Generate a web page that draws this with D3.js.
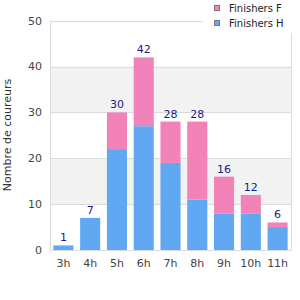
<!DOCTYPE html>
<html>
<head>
<meta charset="utf-8">
<script src="https://cdn.jsdelivr.net/npm/d3@7"></script>
<style>
  body { margin: 0; background: #fff; }
  svg { display: block; font-family: "DejaVu Sans", sans-serif; }
</style>
</head>
<body>
<svg id="chart" width="300" height="300"></svg>
<script>
const categories = ['3h', '4h', '5h', '6h', '7h', '8h', '9h', '10h', '11h'];
const finishersH = [1, 7, 22, 27, 19, 11, 8, 8, 5];
const finishersF = [0, 0, 8, 15, 9, 17, 8, 4, 1];
const yTicks = [0, 10, 20, 30, 40, 50];
const seriesNames = ['Finishers F', 'Finishers H'];

const margin = { top: 20, right: 9, bottom: 50, left: 50 };
const width = 300;
const height = 300;

const svg = d3.select('#chart');

const x = d3.scaleBand()
  .domain(categories)
  .range([margin.left, width - margin.right])
  .paddingInner(0.25)
  .paddingOuter(0.125);

const y = d3.scaleLinear()
  .domain([0, 50])
  .range([height - margin.bottom, margin.top + 0.7]);

const colorH = '#60a8f2';
const colorF = '#f283b8';

// alternating bands
for (let i = 0; i < yTicks.length - 1; i++) {
  if (i % 2 === 1) {
    svg.append('rect')
      .attr('x', margin.left)
      .attr('y', y(yTicks[i + 1]))
      .attr('width', width - margin.right - margin.left)
      .attr('height', y(yTicks[i]) - y(yTicks[i + 1]))
      .attr('fill', '#f2f2f2');
  }
}

// grid lines
svg.append('g')
  .selectAll('line')
  .data(yTicks)
  .enter()
  .append('line')
  .attr('x1', margin.left)
  .attr('x2', width - margin.right)
  .attr('y1', (d) => Math.round(y(d)) + 0.5)
  .attr('y2', (d) => Math.round(y(d)) + 0.5)
  .attr('stroke', '#dcdcdc');

// frame sides
svg.append('line')
  .attr('x1', margin.left + 0.5).attr('x2', margin.left + 0.5)
  .attr('y1', y(50)).attr('y2', y(0) + 1)
  .attr('stroke', '#dcdcdc');
svg.append('line')
  .attr('x1', width - margin.right + 0.5).attr('x2', width - margin.right + 0.5)
  .attr('y1', y(50)).attr('y2', y(0) + 1)
  .attr('stroke', '#dcdcdc');

// bars
const groups = svg.selectAll('.bar-group')
  .data(categories)
  .enter()
  .append('g')
  .attr('class', 'bar-group');

groups.append('rect')
  .attr('x', (d) => x(d))
  .attr('width', x.bandwidth())
  .attr('y', (d, i) => y(finishersH[i]))
  .attr('height', (d, i) => y(0) - y(finishersH[i]))
  .attr('fill', colorH);

groups.append('rect')
  .attr('x', (d) => x(d))
  .attr('width', x.bandwidth())
  .attr('y', (d, i) => y(finishersH[i] + finishersF[i]))
  .attr('height', (d, i) => y(finishersH[i]) - y(finishersH[i] + finishersF[i]))
  .attr('fill', colorF);

groups.append('text')
  .attr('x', (d) => x(d) + x.bandwidth() / 2)
  .attr('y', (d, i) => y(finishersH[i] + finishersF[i]) - 4)
  .attr('text-anchor', 'middle')
  .style('font-size', '11px')
  .attr('fill', '#1a1a8a')
  .text((d, i) => finishersH[i] + finishersF[i]);

// y tick labels
svg.append('g')
  .selectAll('text')
  .data(yTicks)
  .enter()
  .append('text')
  .attr('x', 42)
  .attr('y', (d) => y(d))
  .attr('dy', '0.35em')
  .attr('text-anchor', 'end')
  .style('font-size', '11px')
  .attr('fill', '#444')
  .text((d) => d);

// x tick labels
svg.append('g')
  .selectAll('text')
  .data(categories)
  .enter()
  .append('text')
  .attr('x', (d) => x(d) + x.bandwidth() / 2)
  .attr('y', 267)
  .attr('text-anchor', 'middle')
  .style('font-size', '11px')
  .attr('fill', '#444')
  .text((d) => d);

// y axis title
svg.append('text')
  .attr('transform', 'translate(7, 135) rotate(-90)')
  .attr('dy', '0.35em')
  .attr('text-anchor', 'middle')
  .style('font-size', '11px')
  .attr('fill', '#333')
  .text('Nombre de coureurs');

// legend
svg.append('rect')
  .attr('x', 203)
  .attr('y', 0)
  .attr('width', 97)
  .attr('height', 33)
  .attr('fill', '#fff');

const legend = svg.selectAll('.legend')
  .data(seriesNames)
  .enter()
  .append('g')
  .attr('class', 'legend')
  .attr('transform', (d, i) => `translate(0, ${i * 15})`);

legend.append('rect')
  .attr('x', 214.5)
  .attr('y', 5.5)
  .attr('width', 5)
  .attr('height', 5)
  .attr('fill', (d, i) => (i === 0 ? colorF : colorH))
  .attr('stroke', '#777');

legend.append('text')
  .attr('x', 229)
  .attr('y', 8)
  .attr('dy', '0.35em')
  .style('font-size', '10px')
  .attr('fill', '#222')
  .text((d) => d);
</script>
</body>
</html>
